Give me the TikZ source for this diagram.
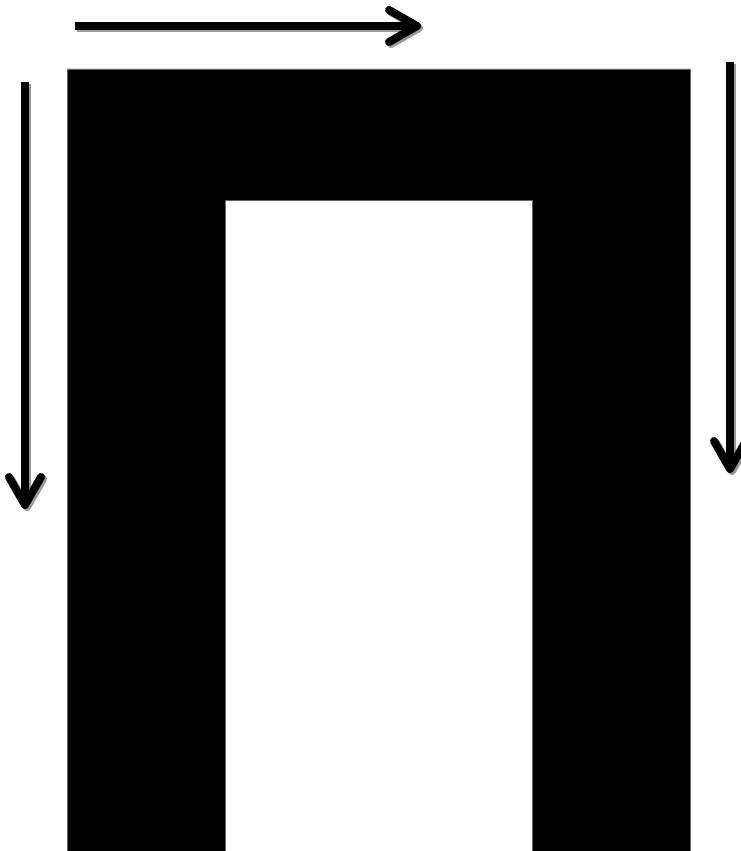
\documentclass[tikz,border=0pt]{standalone}
\usetikzlibrary{arrows.meta}
\tikzset{
	kern/.style={fill=black, draw=black!60, line width=0.8pt},
	pil/.style={-{Straight Barb[length=28pt,width=32pt,round]}, line width=8pt, black},
	pilschatten/.style={pil, black!40, transform canvas={shift={(2pt,-2pt)}}}
}

\begin{document}
\begin{tikzpicture}[x=1pt, y=-1pt]
	\useasboundingbox (0,0) rectangle (740,851);
	% Kern (Pi-Form)
	\draw[kern] (67,852) -- (67,69) -- (690,69) -- (690,852) -- (532,852)
		-- (532,200) -- (225,200) -- (225,852) -- cycle;
	% Pfeile
	\coordinate (oben-a) at (75,26);
	\coordinate (oben-b) at (421,26);
	\coordinate (links-a) at (25,82);
	\coordinate (links-b) at (25,509);
	\coordinate (rechts-a) at (730,62);
	\coordinate (rechts-b) at (730,473);
	\foreach \s in {pilschatten,pil}{
		\draw[\s] (oben-a) -- (oben-b);
		\draw[\s] (links-a) -- (links-b);
		\draw[\s] (rechts-a) -- (rechts-b);
	}
\end{tikzpicture}
\end{document}
